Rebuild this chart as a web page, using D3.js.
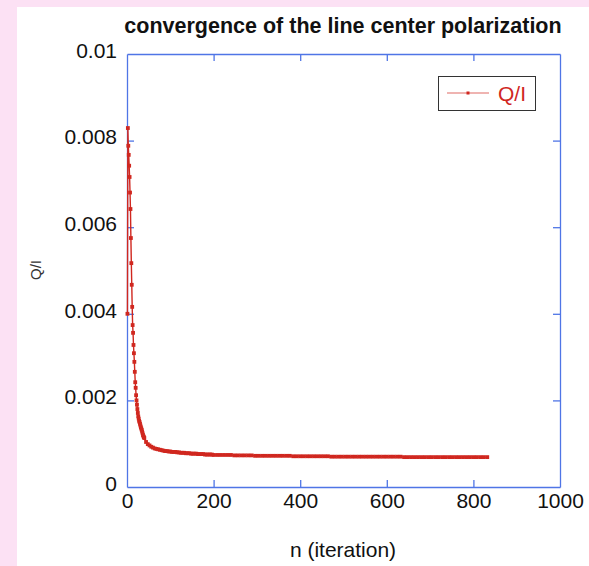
<!DOCTYPE html>
<html>
<head>
<meta charset="utf-8">
<title>convergence of the line center polarization</title>
<style>
  * { margin: 0; padding: 0; }
  body { background: #fce1f4; width: 589px; height: 566px; overflow: hidden; }
  svg { display: block; font-family: "Liberation Sans", Arial, Helvetica, sans-serif; }
</style>
</head>
<body>
<svg id="chart" width="589" height="566"></svg>
<script src="https://cdn.jsdelivr.net/npm/d3@7/dist/d3.min.js"></script>
<script>
// Q/I at the line center, read per iteration for the first 40 steps
var qiEarly = [
  0.00400, 0.00829, 0.00788, 0.00767, 0.00742, 0.00716, 0.00680, 0.00642, 0.00575, 0.00517,
  0.00467, 0.00416, 0.00374, 0.00356, 0.00328, 0.00309, 0.00289, 0.00266, 0.00242, 0.00229,
  0.00212, 0.00200, 0.00190, 0.00180, 0.00171, 0.00163, 0.00158, 0.00153, 0.00150, 0.00146,
  0.00142, 0.00138, 0.00135, 0.00132, 0.00128, 0.00124, 0.00120, 0.00117, 0.00115, 0.00113
];
var earlyStart = 1, earlyStep = 1;

// every 4th iteration from 44 to 200
var qiMid = [
  0.00104, 0.00099, 0.00096, 0.00093, 0.00091, 0.00089, 0.00088, 0.00087, 0.00086, 0.00085,
  0.00084, 0.00083, 0.00083, 0.00082, 0.00082, 0.00081, 0.00081, 0.00081, 0.00080, 0.00080,
  0.00079, 0.00079, 0.00079, 0.00078, 0.00078, 0.00078, 0.00077, 0.00077, 0.00077, 0.00077,
  0.00076, 0.00076, 0.00076, 0.00076, 0.00075, 0.00075, 0.00075, 0.00075, 0.00075, 0.00074
];
var midStart = 44, midStep = 4;

// every 8th iteration from 208 to 832
var qiTail = [
  0.00074, 0.00074, 0.00074, 0.00074, 0.00074, 0.00073, 0.00073, 0.00073, 0.00073, 0.00073,
  0.00073, 0.00072, 0.00072, 0.00072, 0.00072, 0.00072, 0.00072, 0.00072, 0.00072, 0.00072,
  0.00072, 0.00072, 0.00071, 0.00071, 0.00071, 0.00071, 0.00071, 0.00071, 0.00071, 0.00071,
  0.00071, 0.00071, 0.00071, 0.00070, 0.00070, 0.00070, 0.00070, 0.00070, 0.00070, 0.00070,
  0.00070, 0.00070, 0.00070, 0.00070, 0.00070, 0.00070, 0.00070, 0.00070, 0.00070, 0.00070,
  0.00070, 0.00070, 0.00070, 0.00070, 0.00069, 0.00069, 0.00069, 0.00069, 0.00069, 0.00069,
  0.00069, 0.00069, 0.00069, 0.00069, 0.00069, 0.00069, 0.00069, 0.00069, 0.00069, 0.00069,
  0.00069, 0.00069, 0.00069, 0.00069, 0.00069, 0.00069, 0.00069, 0.00069, 0.00069
];
var tailStart = 208, tailStep = 8;

var xTicks = [0, 200, 400, 600, 800, 1000];
var xTickLabels = ["0", "200", "400", "600", "800", "1000"];
var yTicks = [0, 0.002, 0.004, 0.006, 0.008, 0.01];
var yTickLabels = ["0", "0.002", "0.004", "0.006", "0.008", "0.01"];

var seriesName = "Q/I";

function toPoints(vals, start, step) {
  return vals.map(function (v, i) { return { n: start + i * step, q: v }; });
}
var data = toPoints(qiEarly, earlyStart, earlyStep)
  .concat(toPoints(qiMid, midStart, midStep))
  .concat(toPoints(qiTail, tailStart, tailStep));

var red = "#d0271f";
var blue = "#4f75e6";

var svg = d3.select("#chart");

// white panel
svg.append("rect")
  .attr("x", 17).attr("y", 7)
  .attr("width", 589 - 17).attr("height", 566 - 7)
  .attr("fill", "#ffffff");

var plotL = 127, plotR = 560, plotT = 54, plotB = 487;

var x = d3.scaleLinear().domain([0, 1000]).range([plotL, plotR]);
var y = d3.scaleLinear().domain([0, 0.01]).range([plotB, plotT]);

function fmt(labels, values) {
  return function (d) { return labels[values.indexOf(d)]; };
}

// bottom axis with labels
var gx = svg.append("g")
  .attr("transform", "translate(0," + plotB + ")")
  .call(d3.axisBottom(x).tickValues(xTicks).tickFormat(fmt(xTickLabels, xTicks))
    .tickSize(-7).tickSizeOuter(0).tickPadding(6));

// left axis with labels
var gy = svg.append("g")
  .attr("transform", "translate(" + plotL + ",0)")
  .call(d3.axisLeft(y).tickValues(yTicks).tickFormat(fmt(yTickLabels, yTicks))
    .tickSize(-7).tickSizeOuter(0).tickPadding(10));

// top and right axes, ticks only
var gt = svg.append("g")
  .attr("transform", "translate(0," + plotT + ")")
  .call(d3.axisTop(x).tickValues(xTicks).tickFormat("").tickSize(-7).tickSizeOuter(0));
var gr = svg.append("g")
  .attr("transform", "translate(" + plotR + ",0)")
  .call(d3.axisRight(y).tickValues(yTicks).tickFormat("").tickSize(-7).tickSizeOuter(0));

[gx, gy, gt, gr].forEach(function (g) {
  g.selectAll(".domain").attr("stroke", blue).attr("stroke-width", 1.3);
  g.selectAll(".tick line").attr("stroke", blue).attr("stroke-width", 1.3);
});
// no ticks on the frame corners
gx.selectAll(".tick line").filter(function (d) { return d === 0 || d === 1000; }).remove();
gt.selectAll(".tick line").filter(function (d) { return d === 0 || d === 1000; }).remove();
gy.selectAll(".tick line").filter(function (d) { return d === 0 || d === 0.01; }).remove();
gr.selectAll(".tick line").filter(function (d) { return d === 0 || d === 0.01; }).remove();

gx.selectAll("text").attr("font-size", 21).attr("fill", "#111");
gy.selectAll("text").attr("font-size", 21).attr("fill", "#111")
  .attr("transform", "translate(0,-3.5)");
svg.selectAll("g").attr("font-family", null);

// series line and markers
var line = d3.line().x(function (d) { return x(d.n); }).y(function (d) { return y(d.q); });

svg.append("path")
  .datum(data)
  .attr("d", line)
  .attr("fill", "none")
  .attr("stroke", red)
  .attr("stroke-width", 1.4);

var ms = 3.8;  // marker size
svg.append("g").selectAll("rect")
  .data(data)
  .enter().append("rect")
  .attr("x", function (d) { return x(d.n) - ms / 2; })
  .attr("y", function (d) { return y(d.q) - ms / 2; })
  .attr("width", ms)
  .attr("height", ms)
  .attr("fill", red);

// legend
var lg = svg.append("g");
lg.append("rect")
  .attr("x", 438.5).attr("y", 76.5).attr("width", 97).attr("height", 34)
  .attr("fill", "#fff").attr("stroke", "#333").attr("stroke-width", 1);
lg.append("line")
  .attr("x1", 447).attr("x2", 489).attr("y1", 93).attr("y2", 93)
  .attr("stroke", "#e06a64").attr("stroke-width", 1.2);
lg.append("rect")
  .attr("x", 466.5).attr("y", 91.5).attr("width", 3).attr("height", 3).attr("fill", red);
lg.append("text")
  .attr("x", 498).attr("y", 101)
  .attr("font-size", 21).attr("fill", red)
  .text(seriesName);

// titles
svg.append("text")
  .attr("x", 343).attr("y", 33)
  .attr("text-anchor", "middle")
  .attr("font-size", 21.5).attr("font-weight", "bold").attr("fill", "#111")
  .text("convergence of the line center polarization");

svg.append("text")
  .attr("x", 343).attr("y", 557)
  .attr("text-anchor", "middle")
  .attr("font-size", 21).attr("fill", "#111")
  .text("n (iteration)");

svg.append("text")
  .attr("transform", "translate(41,270) rotate(-90)")
  .attr("text-anchor", "middle")
  .attr("font-size", 15).attr("fill", "#333")
  .text("Q/I");
</script>
</body>
</html>
